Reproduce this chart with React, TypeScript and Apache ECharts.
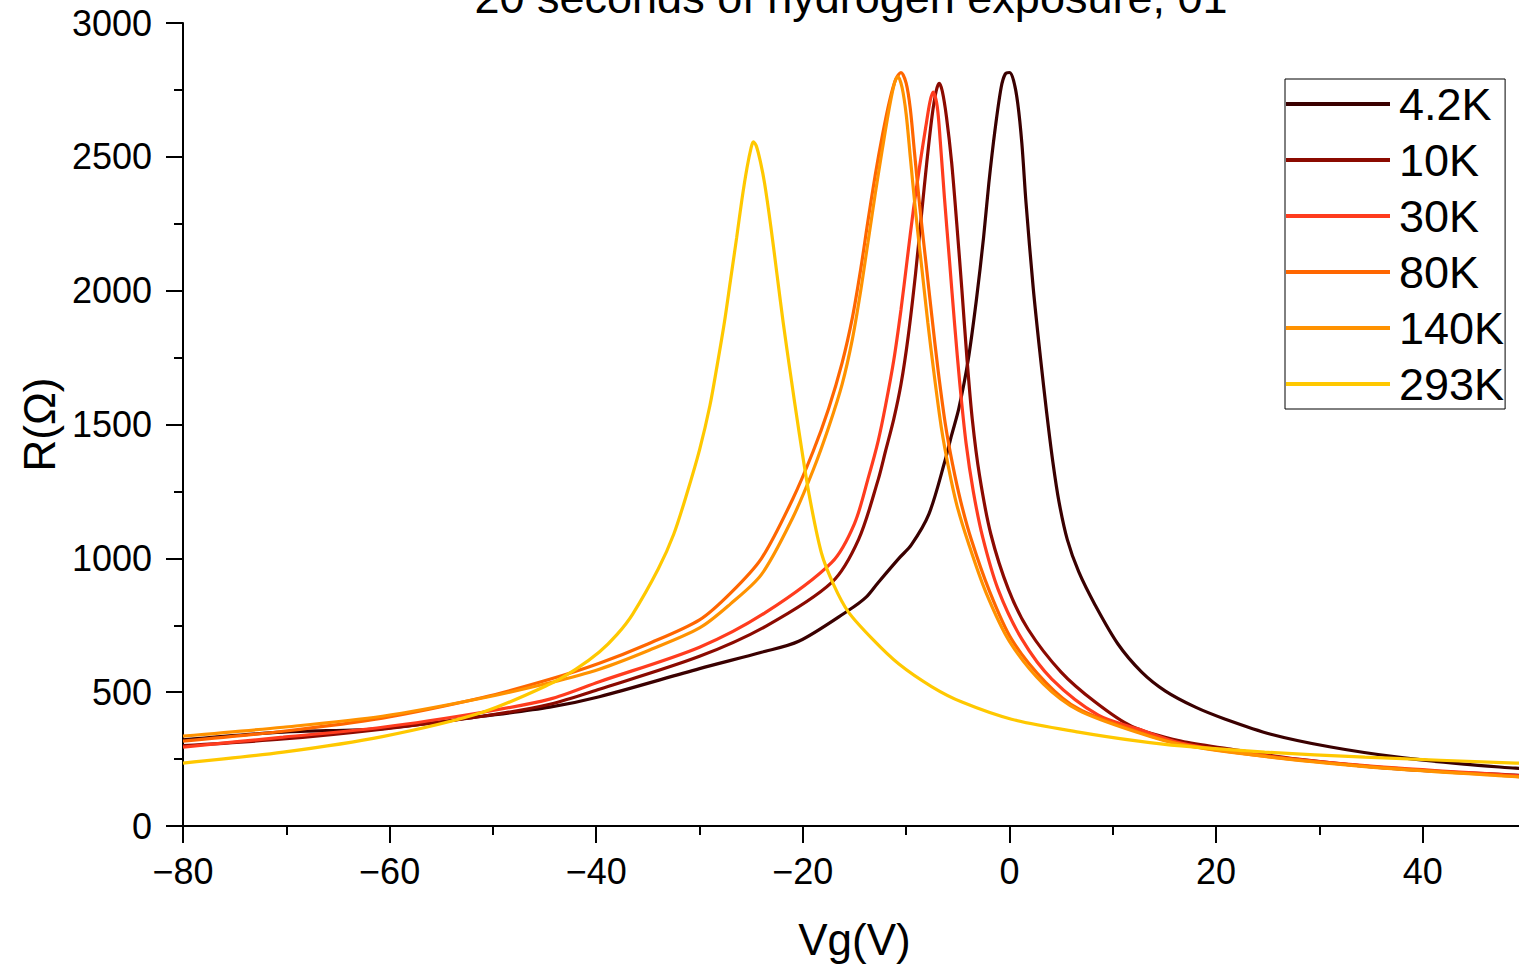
import React, { useEffect, useRef } from 'react';
import * as echarts from 'echarts';

const TITLE = '20 seconds of hydrogen exposure, 01';
const X_NAME = 'Vg(V)';
const Y_NAME = 'R(Ω)';
const SERIES_NAMES = ['4.2K', '10K', '30K', '80K', '140K', '293K'];
const COLORS = ['#3a0000', '#8b0a00', '#ff3c1e', '#ff6600', '#ff9200', '#ffc800'];

const T4K2 = [
  [-80, 322], [-70.3, 351], [-60.7, 364], [-51, 410], [-44.5, 444], [-39.7, 483], [-30, 588],
  [-24, 649], [-20.4, 690], [-15.6, 805], [-13.9, 854], [-12.7, 910], [-10.7, 1000], [-9.5, 1050],
  [-7.8, 1165], [-6.2, 1370], [-5.6, 1460], [-4.9, 1560], [-4.0, 1740], [-3.2, 1966], [-2.5, 2201],
  [-2.0, 2400], [-1.4, 2600], [-0.8, 2760], [-0.4, 2810], [0.0, 2815], [0.4, 2785], [0.8, 2700],
  [1.2, 2550], [1.6, 2330], [2.3, 2010], [3.0, 1750], [3.6, 1545], [4.2, 1360], [4.8, 1210],
  [5.6, 1070], [6.7, 950], [8.3, 825], [10.5, 680], [12.8, 575], [15.1, 504], [18, 444],
  [20.9, 399], [25.3, 343], [31.1, 295], [37.6, 257], [44, 231], [49, 216], [50, 213],
];
const T10 = [
  [-80, 300], [-70.3, 325], [-60.7, 362], [-51, 410], [-44.5, 455], [-39.7, 511], [-30, 634],
  [-23.6, 746], [-17.2, 910], [-14.6, 1071], [-12.7, 1295], [-12.0, 1400], [-11.2, 1520],
  [-10.5, 1650], [-9.8, 1830], [-9.1, 2060], [-8.5, 2290], [-8.0, 2480], [-7.5, 2650],
  [-7.1, 2745], [-6.8, 2775], [-6.5, 2745], [-6.1, 2650], [-5.6, 2480], [-5.1, 2250], [-4.6, 2000],
  [-4.1, 1740], [-3.6, 1520], [-2.9, 1310], [-1.8, 1090], [-0.1, 884], [1.8, 735], [5.0, 575],
  [8.3, 463], [11.8, 373], [16.6, 317], [21.4, 287], [27.9, 250], [37.6, 213], [49, 190], [50, 188],
];
const T30 = [
  [-80, 295], [-70.3, 332], [-60.7, 369], [-51, 425], [-44.5, 474], [-39.7, 539], [-30, 668],
  [-23.6, 798], [-17.2, 985], [-15, 1130], [-13.6, 1310], [-12.7, 1440], [-12.0, 1570],
  [-11.2, 1740], [-10.5, 1929], [-9.9, 2116], [-9.3, 2302], [-8.6, 2489], [-8.1, 2612],
  [-7.7, 2705], [-7.4, 2742], [-7.0, 2690], [-6.7, 2560], [-6.3, 2350], [-5.8, 2110],
  [-5.3, 1870], [-4.8, 1650], [-4.2, 1430], [-3.5, 1250], [-2.6, 1080], [-1.1, 884], [1.2, 698],
  [4.1, 549], [8.6, 414], [12.5, 362], [16.6, 310], [24.7, 263], [34.4, 226], [49, 188], [50, 186],
];
const T80 = [
  [-80, 317], [-70.3, 354], [-60.7, 403], [-51, 480], [-44.5, 548], [-39.7, 608], [-35, 680],
  [-30, 770], [-27, 870], [-24, 1000], [-21, 1220], [-19, 1400], [-17.5, 1560], [-16.2, 1730],
  [-15.2, 1900], [-14.4, 2080], [-13.7, 2260], [-13.0, 2430], [-12.3, 2580], [-11.6, 2710],
  [-11.0, 2790], [-10.5, 2815], [-10.0, 2775], [-9.6, 2680], [-9.2, 2520], [-8.7, 2320],
  [-8.1, 2110], [-7.5, 1900], [-6.9, 1700], [-6.2, 1500], [-5.5, 1350], [-4.7, 1210], [-3.7, 1071],
  [-2.0, 884], [0.2, 698], [3.5, 537], [6.7, 437], [12.5, 351], [16.6, 306], [24.7, 261],
  [34.4, 224], [49, 185], [50, 183],
];
const T140 = [
  [-80, 336], [-70.3, 369], [-60.7, 410], [-51, 478], [-44.5, 535], [-39.7, 586], [-35, 655],
  [-30, 740], [-27, 830], [-24, 940], [-21, 1150], [-19, 1330], [-17.5, 1490], [-16.2, 1650],
  [-15.2, 1820], [-14.4, 2000], [-13.7, 2180], [-13.0, 2360], [-12.3, 2530], [-11.6, 2690],
  [-11.1, 2780], [-10.8, 2800], [-10.4, 2760], [-10.0, 2660], [-9.6, 2500], [-9.1, 2300],
  [-8.5, 2090], [-7.9, 1880], [-7.3, 1690], [-6.6, 1490], [-5.9, 1340], [-5.1, 1200], [-4.0, 1060],
  [-2.3, 875], [0, 690], [3.3, 530], [6.7, 432], [12.5, 348], [16.6, 304], [24.7, 260],
  [34.4, 222], [49, 184], [50, 182],
];
const T293 = [
  [-80, 235], [-70.3, 276], [-60.7, 334], [-51, 425], [-44.5, 530], [-42, 585], [-39.7, 650],
  [-38, 715], [-36.5, 790], [-34, 960], [-32.5, 1090], [-31.2, 1245], [-30.0, 1405],
  [-29.0, 1570], [-28.3, 1720], [-27.6, 1880], [-27.0, 2040], [-26.4, 2200], [-25.9, 2340],
  [-25.4, 2460], [-25.0, 2535], [-24.8, 2556], [-24.5, 2540], [-24.1, 2480], [-23.7, 2400],
  [-23.1, 2240], [-22.5, 2060], [-21.9, 1880], [-21.2, 1690], [-20.4, 1480], [-19.4, 1240],
  [-18.2, 1020], [-17.0, 900], [-15.6, 800], [-13.3, 700], [-10.7, 605], [-7.5, 520], [-4.6, 463],
  [0.2, 399], [6.7, 351], [12.5, 317], [16.6, 299], [24.7, 276], [34.4, 257], [49, 235], [50, 234],
];
const SERIES_DATA = [T4K2, T10, T30, T80, T140, T293];

const X_MIN = -80;
const X_MAX = 50;
const X_STEP = 20;
const Y_MIN = 0;
const Y_MAX = 3000;
const Y_STEP = 500;

const FONT = '"Liberation Sans", Arial, sans-serif';

export default function App() {
  const ref = useRef<HTMLDivElement>(null);
  useEffect(() => {
    if (!ref.current) return;
    const chart = echarts.init(ref.current, undefined, { renderer: 'svg' });
    const axisLineStyle = { color: '#000', width: 2 };
    chart.setOption({
      animation: false,
      backgroundColor: '#fff',
      textStyle: { fontFamily: FONT },
      graphic: [
        {
          type: 'text',
          x: 851,
          y: -3,
          style: {
            text: TITLE,
            fontSize: 45,
            fontFamily: FONT,
            fill: '#000',
            align: 'center',
            verticalAlign: 'middle',
          },
        },
      ],
      legend: {
        orient: 'vertical',
        left: 1285,
        top: 79,
        padding: [0, 1, 0, 1],
        itemGap: 6,
        itemWidth: 104,
        itemHeight: 4,
        icon: 'rect',
        borderColor: '#000',
        borderWidth: 1,
        backgroundColor: '#fff',
        textStyle: {
          fontSize: 45,
          color: '#000',
          fontFamily: FONT,
          lineHeight: 50,
          padding: [0, 0, 0, 4],
        },
        data: SERIES_NAMES,
      },
      grid: { left: 183, top: 23, bottom: 139, right: 0, containLabel: false },
      xAxis: {
        type: 'value',
        min: X_MIN,
        max: X_MAX,
        interval: X_STEP,
        name: X_NAME,
        nameLocation: 'middle',
        nameGap: 91,
        nameTextStyle: { fontSize: 44, color: '#000', fontFamily: FONT },
        axisLine: { show: true, onZero: false, lineStyle: axisLineStyle },
        axisTick: { show: true, length: 17, lineStyle: axisLineStyle },
        minorTick: { show: true, splitNumber: 2, length: 9, lineStyle: axisLineStyle },
        splitLine: { show: false },
        axisLabel: {
          fontSize: 36,
          color: '#000',
          margin: 27,
          fontFamily: FONT,
          formatter: (v: number) =>
            v % X_STEP !== 0 ? '' : v < 0 ? '\u2212' + Math.abs(v) : String(v),
        },
      },
      yAxis: {
        type: 'value',
        min: Y_MIN,
        max: Y_MAX,
        interval: Y_STEP,
        name: Y_NAME,
        nameLocation: 'middle',
        nameGap: 122,
        nameTextStyle: { fontSize: 44, color: '#000', fontFamily: FONT },
        axisLine: { show: true, onZero: false, lineStyle: axisLineStyle },
        axisTick: { show: true, length: 17, lineStyle: axisLineStyle },
        minorTick: { show: true, splitNumber: 2, length: 9, lineStyle: axisLineStyle },
        splitLine: { show: false },
        axisLabel: {
          fontSize: 36,
          color: '#000',
          margin: 31,
          fontFamily: FONT,
          formatter: (v: number) => String(v),
        },
      },
      series: SERIES_NAMES.map((name, i) => ({
        name,
        type: 'line',
        data: SERIES_DATA[i],
        showSymbol: false,
        symbol: 'none',
        smooth: 0.3,
        color: COLORS[i],
        lineStyle: { width: 3.2, color: COLORS[i] },
        clip: true,
      })),
    });
    return () => chart.dispose();
  }, []);
  return (
    <div
      style={{
        position: 'absolute',
        left: 0,
        top: 0,
        width: 1519,
        height: 966,
        overflow: 'hidden',
        background: '#fff',
      }}
    >
      <div ref={ref} style={{ width: 1529, height: 966 }} />
    </div>
  );
}
